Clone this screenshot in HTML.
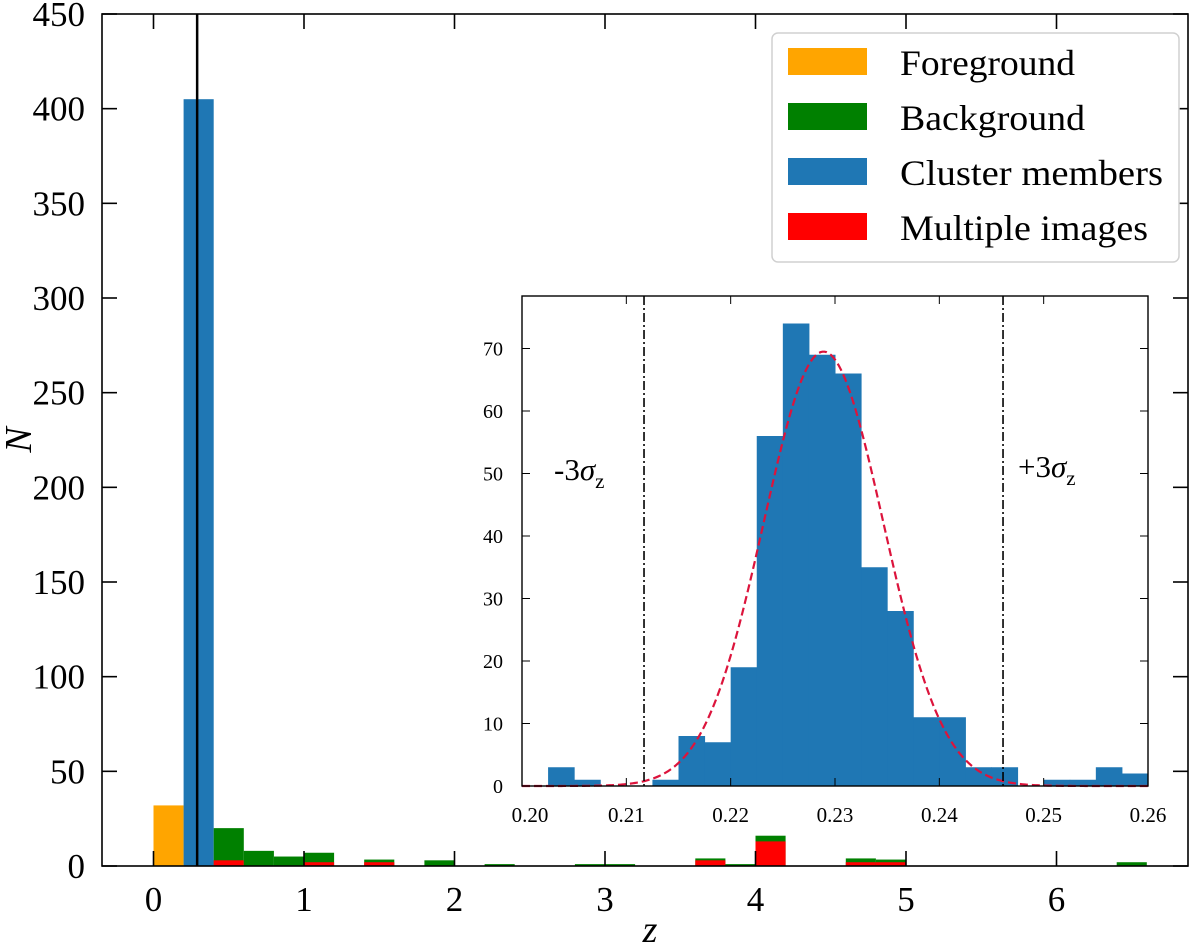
<!DOCTYPE html>
<html><head><meta charset="utf-8"><style>
html,body{margin:0;padding:0;background:#fff;}
svg{display:block;font-family:"Liberation Serif",serif;}
</style></head><body>
<svg id="chart" width="1200" height="944" xmlns="http://www.w3.org/2000/svg"></svg>
<script>
// ---- main histogram data ----
const binStarts = [0.0,0.2,0.4,0.6,0.8,1.0,1.4,1.8,2.2,2.8,3.0,3.6,3.8,4.0,4.6,4.8,6.4];
const foregroundCounts = [32,0,0,0,0,0,0,0,0,0,0,0,0,0,0,0,0];
const clusterCounts    = [0,405,0,0,0,0,0,0,0,0,0,0,0,0,0,0,0];
const backgroundCounts = [0,0,20,8,5,7,3.4,3,1,1,1,4,1,16,4,3.4,2];
const multipleCounts   = [0,0,3,0,0,2,2,0,0,0,0,3,0,13,2,2,0];
const binWidth = 0.2;
const clusterZ = 0.29;
const mainXTicks = [0,1,2,3,4,5,6];
const mainYTicks = [0,50,100,150,200,250,300,350,400,450];
// ---- inset data ----
const insetBinStart = 0.2025;
const insetBinWidth = 0.0025;
const insetCounts = [3,1,0,0,1,8,7,19,56,74,69,66,35,28,11,11,3,3,0,1,1,3,2];
const gaussMean = 0.2289;
const gaussSigma = 0.005735;
const gaussAmp = 69.5;
const insetXTicks = [0.20,0.21,0.22,0.23,0.24,0.25,0.26];
const insetYTicks = [0,10,20,30,40,50,60,70];

const NS='http://www.w3.org/2000/svg';
const svg=document.getElementById('chart');
function mk(tag,attrs,parent){const e=document.createElementNS(NS,tag);for(const k in attrs)e.setAttribute(k,attrs[k]);(parent||svg).appendChild(e);return e;}

// main axes
const L=102,R=1188,T=14,B=866;
const X=z=>153.5+z*150.5;
const Y=n=>B-(n/450)*(B-T);

const bars=mk('g',{});


binStarts.forEach((s,i)=>{
  const x0=X(s),w=X(s+binWidth)-x0;
  if(foregroundCounts[i]>0){const r=mk('rect',{x:x0,y:Y(foregroundCounts[i]),width:w,height:B-Y(foregroundCounts[i]),fill:'#ffa500'},bars);
    }
  if(clusterCounts[i]>0){const r=mk('rect',{x:x0,y:Y(clusterCounts[i]),width:w,height:B-Y(clusterCounts[i]),fill:'#1f77b4'},bars);
    }
  if(backgroundCounts[i]>0){const r=mk('rect',{x:x0,y:Y(backgroundCounts[i]),width:w,height:B-Y(backgroundCounts[i]),fill:'#008000'},bars);
    }
  if(multipleCounts[i]>0){const r=mk('rect',{x:x0,y:Y(multipleCounts[i]),width:w,height:B-Y(multipleCounts[i]),fill:'#ff0000'},bars);
    }
});
const cl=mk('line',{x1:X(clusterZ),x2:X(clusterZ),y1:T,y2:B,stroke:'#000','stroke-width':2.5});


const frame=mk('rect',{x:L,y:T,width:R-L,height:B-T,fill:'none',stroke:'#000','stroke-width':1.6});

mainXTicks.forEach(t=>{
  mk('line',{x1:X(t),x2:X(t),y1:B,y2:B-15,stroke:'#000','stroke-width':1.6});
  mk('line',{x1:X(t),x2:X(t),y1:T,y2:T+15,stroke:'#000','stroke-width':1.6});
  const tx=mk('text',{x:X(t),y:B+45,'font-size':35,'text-anchor':'middle'});tx.textContent=t;
  
});
mainYTicks.forEach(t=>{
  mk('line',{x1:L,x2:L+15,y1:Y(t),y2:Y(t),stroke:'#000','stroke-width':1.6});
  mk('line',{x1:R,x2:R-15,y1:Y(t),y2:Y(t),stroke:'#000','stroke-width':1.6});
  const tx=mk('text',{x:85,y:Y(t)+12,'font-size':35,'text-anchor':'end'});tx.textContent=t;
  
});
const xt=mk('text',{x:650,y:942,'font-size':38,'font-style':'italic','text-anchor':'middle'});xt.textContent='z';

const yt=mk('text',{x:0,y:0,'font-size':38,'font-style':'italic','text-anchor':'middle',transform:'translate(31,440) rotate(-90)'});yt.textContent='N';


// legend
const lg=mk('g',{});

mk('rect',{x:772,y:33,width:407,height:229,rx:6,fill:'#fff',stroke:'#d0d0d0','stroke-width':1.5},lg);
const legNames=['Foreground','Background','Cluster members','Multiple images'];
const legColors=['#ffa500','#008000','#1f77b4','#ff0000'];
const legWidths=[175,185,263,248];
legNames.forEach((n,i)=>{
  const yy=48+i*55;
  const g=mk('g',{},lg);
  
  mk('rect',{x:788,y:yy,width:79,height:27,fill:legColors[i]},g);
  const t=mk('text',{x:900,y:yy+27,'font-size':36,textLength:legWidths[i],lengthAdjust:'spacingAndGlyphs'},g);t.textContent=n;
});

// inset
const iL=522,iR=1148,iT=296,iB=786;
const IX=z=>iL+(z-0.20)/0.06*(iR-iL);
const IY=n=>iB-n*6.25;
mk('rect',{x:iL,y:iT,width:iR-iL,height:iB-iT,fill:'#fff'});
const ib=mk('g',{});

insetCounts.forEach((c,i)=>{
  if(c<=0)return;
  const s=insetBinStart+i*insetBinWidth;
  const r=mk('rect',{x:IX(s),y:IY(c),width:IX(s+insetBinWidth)-IX(s)+0.5,height:iB-IY(c),fill:'#1f77b4'},ib);
  
});
let d='';
for(let k=0;k<=300;k++){const z=0.20+0.06*k/300;const v=gaussAmp*Math.exp(-0.5*((z-gaussMean)/gaussSigma)**2);d+=(k?'L':'M')+IX(z).toFixed(2)+','+IY(v).toFixed(2);}
const gp=mk('path',{d:d,fill:'none',stroke:'#dc143c','stroke-width':2.2,'stroke-dasharray':'8,4'});

[-3,3].forEach(k=>{
  const xx=IX(gaussMean+k*gaussSigma);
  const l=mk('line',{x1:xx,x2:xx,y1:iT,y2:iB,stroke:'#000','stroke-width':1.6,'stroke-dasharray':'9,3,2,3'});
  
});
const s1=mk('text',{x:554,y:480,'font-size':31});s1.innerHTML='-3<tspan font-style="italic">σ</tspan><tspan font-size="21" dy="8">z</tspan>';

const s2=mk('text',{x:1018,y:477,'font-size':31});s2.innerHTML='+3<tspan font-style="italic">σ</tspan><tspan font-size="21" dy="8">z</tspan>';

const iframe=mk('rect',{x:iL,y:iT,width:iR-iL,height:iB-iT,fill:'none',stroke:'#000','stroke-width':1.4});

insetXTicks.forEach(t=>{
  mk('line',{x1:IX(t),x2:IX(t),y1:iB,y2:iB-8,stroke:'#000','stroke-width':1});
  mk('line',{x1:IX(t),x2:IX(t),y1:iT,y2:iT+8,stroke:'#000','stroke-width':1});
  const tx=mk('text',{x:IX(t)+(t===0.20?8:0),y:822,'font-size':21,'text-anchor':'middle'});tx.textContent=t.toFixed(2);
  
});
insetYTicks.forEach(t=>{
  mk('line',{x1:iL,x2:iL+8,y1:IY(t),y2:IY(t),stroke:'#000','stroke-width':1});
  mk('line',{x1:iR,x2:iR-8,y1:IY(t),y2:IY(t),stroke:'#000','stroke-width':1});
  const tx=mk('text',{x:503,y:IY(t)+7,'font-size':20,'text-anchor':'end'});tx.textContent=t;
  
});
</script>
</body></html>
